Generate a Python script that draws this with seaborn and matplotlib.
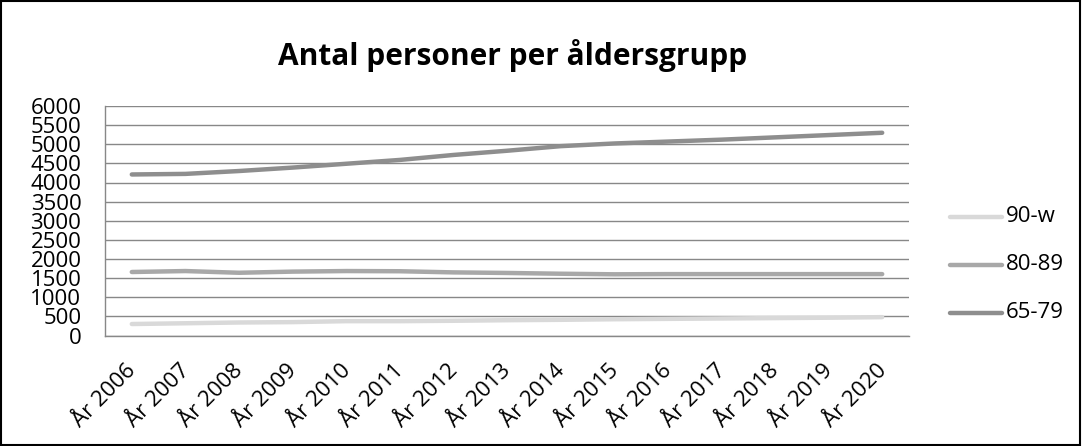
import numpy as np
import pandas as pd
import matplotlib.pyplot as plt
import matplotlib.transforms as mtransforms
from matplotlib.patches import Rectangle
import seaborn as sns

years = ['År 2006', 'År 2007', 'År 2008', 'År 2009', 'År 2010', 'År 2011', 'År 2012', 'År 2013',
         'År 2014', 'År 2015', 'År 2016', 'År 2017', 'År 2018', 'År 2019', 'År 2020']
age_90w = [300, 320, 340, 350, 375, 375, 385, 400, 410, 425, 435, 445, 455, 465, 480]
age_80_89 = [1660, 1685, 1640, 1670, 1685, 1680, 1650, 1635, 1615, 1600, 1605, 1605, 1605, 1605, 1605]
age_65_79 = [4210, 4225, 4300, 4390, 4490, 4590, 4720, 4830, 4950, 5020, 5070, 5120, 5180, 5240, 5300]
groups = ['90-w', '80-89', '65-79']
colors = ['#d9d9d9', '#a8a8a8', '#8e8e8e']

df = pd.DataFrame({'year': years * 3,
                   'pos': list(range(len(years))) * 3,
                   'antal': age_90w + age_80_89 + age_65_79,
                   'grupp': [g for g in groups for _ in years]})

sns.set_style('white')
plt.rcParams['font.family'] = ['Open Sans', 'DejaVu Sans']
plt.rcParams['text.color'] = 'black'
plt.rcParams['xtick.labelcolor'] = 'black'
plt.rcParams['ytick.labelcolor'] = 'black'

fig = plt.figure(figsize=(10.82, 4.46), dpi=100)
ax = fig.add_axes([105 / 1082, 1 - 335.5 / 446, (909 - 105) / 1082, (335.5 - 106) / 446])

sns.lineplot(data=df, x='pos', y='antal', hue='grupp', hue_order=groups,
             palette=colors, linewidth=3.2, ax=ax, legend=False, zorder=3)

ax.set_xlim(-0.5, len(years) - 0.5)
ax.set_ylim(0, 6000)
ax.set_yticks(np.arange(0, 6001, 500))
ax.yaxis.grid(True, color='#888888', linewidth=1)
ax.set_xticks(range(len(years)))
ax.set_xticklabels(years, rotation=45, ha='right', va='center', rotation_mode='anchor')
ax.set_xticks(np.arange(-0.5, len(years)), minor=True)
ax.tick_params(axis='x', which='major', length=0, pad=23, labelsize=16)
ax.tick_params(axis='x', which='minor', length=6, color='#888888', width=1, direction='out')
ax.tick_params(axis='y', length=6, color='#888888', width=1, direction='out', pad=11, labelsize=16)
ax.set_xlabel('')
ax.set_ylabel('')
for s in ['top', 'right']:
    ax.spines[s].set_visible(False)
for s in ['left', 'bottom']:
    ax.spines[s].set_color('#888888')
    ax.spines[s].set_linewidth(1)

offset = mtransforms.ScaledTranslation(1 / 100, 0, fig.dpi_scale_trans)
for lab in ax.get_xticklabels():
    lab.set_transform(lab.get_transform() + offset)

fig.text(513 / 1082, 1 - 55 / 446, 'Antal personer per åldersgrupp', ha='center', va='center',
         fontsize=21.5, fontweight='bold')

# legend drawn as lines in figure coords
leg_y = [216.5, 264.5, 313]
for g, c, yy in zip(groups, colors, leg_y):
    fig.add_artist(plt.Line2D([950 / 1082, 1002 / 1082], [1 - yy / 446, 1 - yy / 446],
                              color=c, linewidth=3.2))
    fig.text(1006 / 1082, 1 - yy / 446, g, ha='left', va='center', fontsize=16)

fig.add_artist(Rectangle((0.001, 0.002), 0.997, 0.995, transform=fig.transFigure,
                         fill=False, edgecolor='black', linewidth=1.5))

fig.savefig('out.png', dpi=100)
